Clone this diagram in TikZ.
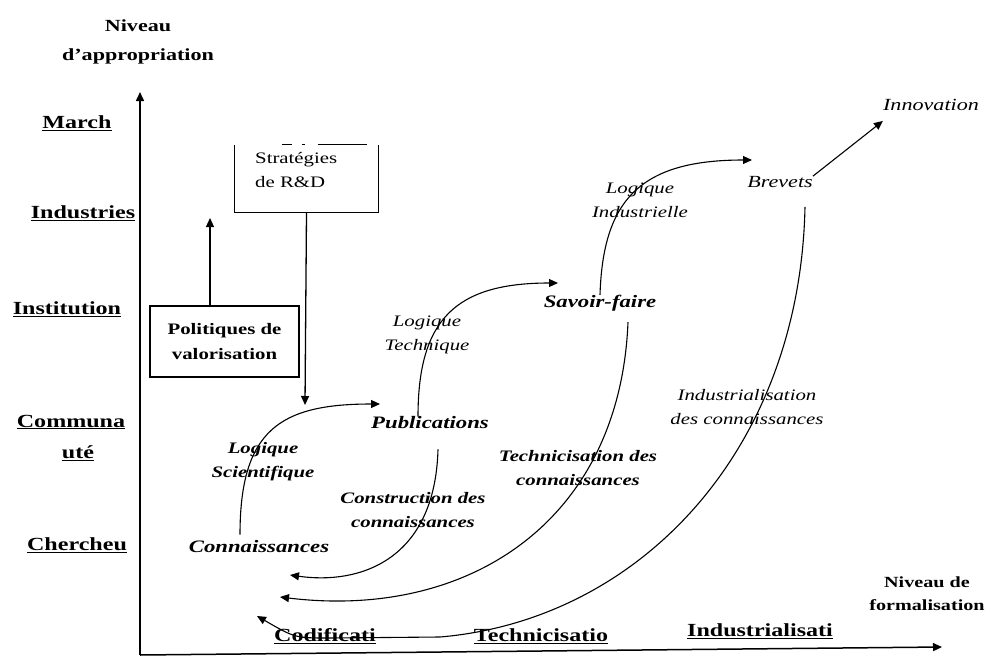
\documentclass[tikz,border=0pt]{standalone}
\usepackage{fontspec}
\setmainfont{Liberation Serif}[FakeStretch=1.3]
\usetikzlibrary{arrows.meta}
\begin{document}
\begin{tikzpicture}[x=1pt,y=-1pt,
  ax/.style={line width=1.5pt},
  arr/.style={-{Triangle[length=9pt,width=8pt]}},
  crv/.style={line width=1.1pt, arr},
  lvl/.style={font=\fontsize{18.5}{20}\selectfont\bfseries, inner sep=0pt},
  ttl/.style={font=\fontsize{17}{29}\selectfont\bfseries, align=center, inner sep=0pt},
  boxt/.style={font=\fontsize{16}{24}\selectfont, align=center, inner sep=0pt},
  key/.style={font=\fontsize{17.5}{20}\selectfont\bfseries\itshape, inner sep=0pt},
  keyl/.style={font=\fontsize{17}{20}\selectfont\itshape, inner sep=0pt},
  lab/.style={font=\fontsize{16}{24}\selectfont\itshape, align=center, inner sep=0pt},
  labb/.style={font=\fontsize{16}{24}\selectfont\bfseries\itshape, align=center, inner sep=0pt},
  boxline/.style={line width=1.3pt}
]
\useasboundingbox (0,0) rectangle (996,656);

% axes
\coordinate (O) at (140,655);
\coordinate (ytop) at (140,92);
\coordinate (xend) at (942,647);
\draw[ax, arr] (O) -- (ytop);
\draw[ax, arr] (O) -- (xend);

% axis titles
\node[ttl] (ytitle) at (138,42) {Niveau\\d'appropriation};
\node[ttl, font=\fontsize{15.5}{23}\selectfont\bfseries] (xtitle) at (927,594) {Niveau de\\formalisation};

% level labels
\node[lvl] (march) at (77,123) {\underline{March}};
\node[lvl] (indus) at (83,213) {\underline{Industries}};
\node[lvl] (instit) at (67,309) {\underline{Institution}};
\node[lvl] (commA) at (71,422) {\underline{Communa}};
\node[lvl] (commB) at (78,453) {\underline{uté}};
\node[lvl] (cherch) at (77,545) {\underline{Chercheu}};
\node[lvl] (codif) at (325,636) {\underline{Codificati}};
\node[lvl] (techn) at (541,636) {\underline{Technicisatio}};
\node[lvl] (indst) at (760,631) {\underline{Industrialisati}};

% boxes
\node[boxt, draw, boxline, minimum width=149pt, minimum height=71pt,
      font=\fontsize{16}{25}\selectfont\bfseries] (pol) at (224.5,341.5) {Politiques de\\valorisation};
\node[minimum width=143pt, minimum height=67pt, inner sep=0pt] (stratbox) at (306.5,178.5) {};
\node[boxt, align=left, anchor=west] (strat) at (255,170) {Stratégies\\de R\&D};
\draw[boxline] (stratbox.north west) -- (stratbox.south west) -- (stratbox.south east) -- (stratbox.north east);
\draw[boxline, dash pattern=on 10pt off 10pt on 3pt off 13pt on 49pt off 100pt]
  ([xshift=47pt]stratbox.north west) -- ([xshift=-11pt]stratbox.north east);

\coordinate (rdtip) at (305,405);
\coordinate (poltip) at (210,218);
\draw[boxline, arr] (stratbox.south) -- (rdtip);
\draw[line width=1.1pt, arr] ([xshift=-14.5pt]pol.north) -- (poltip);

% key nodes
\node[key] (conn) at (259,547) {Connaissances};
\node[key] (pub) at (430,423) {Publications};
\node[key] (sf) at (600,303) {Savoir-faire};
\node[keyl] (brev) at (780,182) {Brevets};
\node[keyl] (innov) at (931,105) {Innovation};

% forward curves
\coordinate (tipA) at (380,404);
\coordinate (tipB) at (558,283);
\coordinate (tipC) at (752,160);
\draw[crv] ([xshift=-19pt,yshift=6pt]conn.north) .. controls (240,430) and (280,404) .. (tipA);
\draw[crv] ([xshift=-12pt]pub.north) .. controls (418,320) and (455,283) .. (tipB);
\draw[crv] (sf.north) .. controls (603,200) and (640,160) .. (tipC);
\draw[line width=1.1pt, arr] (brev.north east) -- ([yshift=-10pt]innov.south west);

% return curves
\coordinate (tipE) at (290,575);
\coordinate (tipF) at (280,597);
\coordinate (tipG) at (257,616);
\draw[crv] ([xshift=8pt,yshift=-20pt]pub.south) .. controls (435,560) and (360,585) .. (tipE);
\draw[crv] ([xshift=28pt,yshift=-11pt]sf.south) .. controls (620,520) and (470,620) .. (tipF);
\draw[crv] ([xshift=25pt,yshift=-19pt]brev.south) .. controls (800,450) and (640,620) .. (440,637)
  -- (330,638) .. controls (295,638) .. (tipG);

% curve labels
\node[labb] (lsci) at (263,462) {Logique\\Scientifique};
\node[lab] (ltech) at (427,335) {Logique\\Technique};
\node[lab] (lind) at (640,200) {Logique\\Industrielle};
\node[labb] (lcons) at (413,510) {Construction des\\connaissances};
\node[labb] (ltechn) at (578,468) {Technicisation des\\connaissances};
\node[lab] (lindu) at (747,407) {Industrialisation\\des connaissances};
\end{tikzpicture}
\end{document}
